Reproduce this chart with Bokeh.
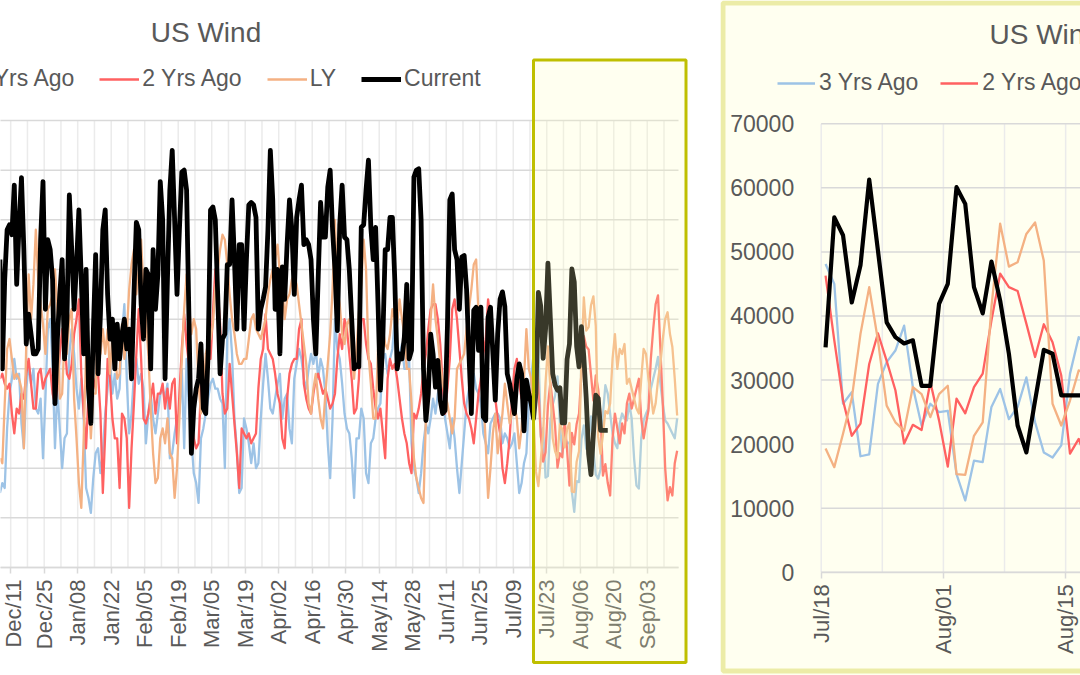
import math
import numpy as np
import pandas as pd
from bokeh.plotting import figure
from bokeh.layouts import row
from bokeh.models import (FixedTicker, DatetimeTickFormatter, NumeralTickFormatter,
                          Legend, LegendItem, BoxAnnotation, Label, Range1d)
from bokeh.embed import file_html
from bokeh.resources import INLINE

# ---------------- data (daily, values in thousand MW) ----------------
FIRST_DAY = "2022-12-06"

three_yrs_ago = [
    15, 17, 16, 28, 35, 38, 42, 38, 39, 29,
    24, 36, 41, 37, 40, 32, 31, 34, 22, 34,
    48, 50, 41, 24, 36, 28, 20, 26, 27, 43,
    48, 43, 36, 32, 38, 30, 16, 14, 11, 18,
    23, 24, 19, 23, 31, 36, 42, 35, 39, 34,
    36, 47, 53, 38, 27, 31, 39, 42, 37, 39,
    36, 25, 31, 35, 30, 27, 31, 35, 36, 34,
    37, 22, 23, 27, 30, 31, 40, 24, 42, 32,
    26, 19, 17, 13, 26, 28, 31, 34, 37, 38,
    36, 36, 34, 33, 20, 47, 50, 43, 30, 24,
    15, 16, 30, 28, 25, 21, 25, 20, 21, 30,
    37, 43, 38, 32, 31, 34, 37, 39, 30, 34,
    35, 28, 25, 38, 41, 44, 42, 38, 36, 40,
    43, 41, 44, 38, 42, 40, 35, 25, 18, 30,
    50, 44, 42, 37, 31, 28, 27, 22, 14, 26,
    26, 32, 30, 19, 17, 25, 26, 30, 32, 33,
    42, 43, 39, 42, 44, 50, 44, 43, 45, 40,
    40, 42, 25, 20, 18, 15, 19, 25, 29, 27,
    30, 34, 31, 35, 37, 36, 30, 27, 24, 30,
    26, 20, 15, 21, 27, 33, 36, 38, 39, 36,
    35, 33, 27, 25, 23, 29, 30, 31, 31, 30,
    25, 27, 26, 24, 25, 27, 21, 15, 17, 21,
    23, 33, 38, 43,
    48.1, 45.0, 26.3, 28.1, 18.1, 18.4, 29.4, 32.8, 34.6, 38.5,
    28.9, 22.9, 26.3, 25.0, 25.2, 15.3, 11.2, 17.4, 17.2, 25.8,
    28.6, 23.9, 25.8, 30.4, 23.4, 18.7, 17.9, 19.8, 31.0, 36.7,
    35, 31, 27, 25, 24, 29, 31, 30, 29.6, 33,
    30, 22, 16.5, 15.9, 26, 29.6, 31, 32, 36, 38,
    40, 42.4, 37, 33, 29.6, 29, 28, 27, 26, 30,
]

two_yrs_ago = [
    38, 39, 37, 36, 37, 31, 27, 32, 31, 35,
    34, 39, 42, 37, 32, 32, 39, 40, 36, 38,
    39, 40, 35, 33, 36, 43, 48, 46, 39, 38,
    41, 47, 50, 54, 39, 31, 24, 35, 42, 36,
    38, 39, 31, 15, 27, 42, 38, 30, 26, 26,
    16, 31, 30, 26, 12, 24, 33, 43, 52, 42,
    30, 29, 31, 34, 37, 31, 35, 35, 37, 32,
    36, 32, 37, 38, 25, 35, 44, 51, 45, 41,
    30, 26, 24, 25, 36, 40, 40, 43, 42, 51,
    60, 56, 49, 35, 31, 32, 41, 35, 29, 23,
    16, 28, 27, 26, 27, 25, 26, 27, 36, 42,
    44, 51, 44, 43, 42, 39, 35, 33, 26, 24,
    34, 39, 41, 42, 42, 48, 50, 37, 34, 32,
    31, 35, 38, 39, 37, 35, 36, 34, 32, 33,
    35, 42, 47, 44, 50, 48, 43, 38, 31, 32,
    38, 50, 50, 45, 42, 41, 36, 32, 30, 32,
    27, 22, 38, 42, 40, 41, 38, 34, 30, 27,
    25, 21, 19, 31, 30, 32, 35, 40, 43, 48,
    52, 53, 53, 50, 45, 37, 31, 36, 42, 52,
    54, 50, 44, 38, 33, 31, 30, 28, 25, 30,
    35, 38, 43, 46, 54, 50, 44, 34, 30, 27,
    20, 17, 21, 26, 34, 40, 42, 37, 34, 36,
    37.7, 36, 33, 35,
    46.3, 36.2, 26.8, 21.3, 23.2, 32.5, 37.3, 33.0, 28.4, 20.1,
    23.0, 22.2, 29.7, 23.7, 16.5, 27.1, 24.8, 28.9, 31.0, 39.3,
    46.6, 44.5, 43.9, 38.8, 33.6, 38.7, 35.9, 30.7, 18.5, 20.8,
    17, 14.5, 26, 31, 28, 25, 29, 27, 33, 35,
    32, 34, 36, 38, 30, 26, 29, 31.6, 42, 48,
    53, 54.8, 44, 33, 20, 13.5, 16.2, 14.5, 21, 23.5,
]

last_year = [
    22, 21, 33, 44, 46, 42, 38, 39, 38, 36,
    24, 45, 59, 50, 57, 68, 58, 53, 49, 43,
    52, 53, 55, 60, 52, 34, 35, 46, 43, 50,
    52, 34, 26, 17, 12, 26, 43, 36, 26, 35,
    35, 52, 43, 48, 43, 48, 39, 47, 44, 38,
    39, 49, 42, 47, 56, 61, 64, 55, 60, 66,
    56, 50, 43, 32, 23, 17, 18, 26, 28, 25,
    30, 23, 22, 14, 20, 30, 42, 52, 59, 53,
    47, 50, 48, 37, 31, 33, 43, 45, 46, 49,
    56, 60, 64, 67, 66, 61, 55, 50, 47, 43,
    41, 41, 42, 42, 46, 50, 51, 48, 47, 46,
    48, 50, 55, 58, 60, 62, 65, 59, 57, 50,
    54, 55, 58, 59, 57, 53, 49, 45, 41, 33,
    31, 36, 39, 34, 30, 28, 35, 41, 47, 56,
    70, 56, 53, 47, 45, 49, 50, 43, 38, 44,
    51, 57, 66, 60, 43, 37, 30, 30, 44, 44,
    48, 45, 44, 47, 52, 50, 49, 54, 50, 47,
    40, 40, 33, 22, 18, 16, 14, 13, 30, 41,
    50, 57, 50, 46, 41, 37, 35, 33, 30, 27,
    30, 40, 41, 42, 43, 48, 52, 56, 61, 62,
    51, 43, 35, 25, 14, 20, 27, 31, 23, 27,
    31, 37, 33, 29, 31, 33, 30, 24, 28, 38,
    48, 40, 38, 30,
    19.3, 16.4, 21.6, 27.1, 37.2, 44.5, 36.2, 26.0, 23.4, 22.1,
    28.9, 27.8, 24.2, 27.8, 29.1, 15.3, 15.2, 21.3, 23.4, 41.4,
    54.4, 47.7, 48.4, 52.8, 54.6, 48.6, 26.3, 22.9, 26.8, 31.5,
    31, 33, 42, 47, 40, 44, 43, 45, 37, 38,
    36, 34, 32, 31, 38, 44, 43, 38, 35, 31,
    33, 37.7, 41, 46, 50, 51.4, 47, 44.4, 38, 30.6,
]

current = [
    62, 40, 58, 68, 69, 67, 77, 57, 69, 78.5,
    64, 45, 51, 47, 43, 43, 44, 66, 77.7, 52,
    66, 64, 58, 33, 46, 55, 62, 42, 50, 75,
    64, 52, 61, 72, 58, 43, 60, 36, 29, 47,
    63, 39, 51, 68, 72, 55, 46, 50, 40, 49,
    42, 47, 50, 44, 48, 38, 55, 69.5, 68, 53,
    46, 60, 59, 40, 64, 52, 59, 77.7, 70, 38,
    58, 76, 84, 70, 55, 68, 79.6, 80, 76, 50,
    23, 32, 36, 38, 45, 32, 31, 43, 72, 72.6,
    70, 55, 39, 46, 47, 61, 61, 74, 62, 48,
    65, 65, 48, 62, 73, 73.5, 73, 70.5, 48, 52,
    54, 56.5, 68, 84, 74, 52, 60, 43, 60.5, 54,
    65, 74, 68, 55, 70.5, 74, 77, 65, 66, 65,
    62, 50, 43, 58.5, 73.5, 66.5, 66.5, 76.6, 80, 68,
    60, 47.7, 69, 77, 66.5, 66, 60, 50, 40, 40.7,
    40.4, 68.5, 69, 76, 82, 68.5, 62, 68.5, 53, 35.7,
    46, 64, 64, 70.5, 70.5, 58, 40, 43, 42, 46.4,
    57, 42, 43.7, 78.6, 80, 80.3, 70, 40, 29.6, 35,
    47, 43, 36.3, 41.7, 33.7, 31, 31.6, 48.4, 74, 75.2,
    64, 62, 52, 62.5, 62.8, 56, 43, 31, 51.8, 52.4,
    43.7, 52.4, 30.3, 29.6, 50.4, 52.4, 43, 33.7, 47, 54,
    55.5, 52.5, 39, 37, 34, 31, 38, 41, 39, 27.5,
    37.7, 35, 33, 30,
    35.1, 55.4, 52.6, 42.1, 47.9, 61.3, 50.2, 39.0, 36.7, 35.7,
    36.2, 29.1, 29.1, 41.9, 45.0, 60.1, 57.5, 44.5, 40.4, 48.5,
    42.4, 34.1, 22.9, 18.7, 26.8, 34.7, 34.1, 27.6, 27.6, 27.6,
    27.6,
]

series_names = ["3 Yrs Ago", "2 Yrs Ago", "LY", "Current"]
main_tick_labels = ["Dec/11", "Dec/25", "Jan/08", "Jan/22", "Feb/05", "Feb/19",
                    "Mar/05", "Mar/19", "Apr/02", "Apr/16", "Apr/30", "May/14",
                    "May/28", "Jun/11", "Jun/25", "Jul/09", "Jul/23", "Aug/06",
                    "Aug/20", "Sep/03"]
zoom_tick_labels = ["Jul/18", "Aug/01", "Aug/15"]
main_y_ticks = [0, 10000, 20000, 30000, 40000, 50000, 60000, 70000, 80000, 90000]
zoom_y_ticks = [0, 10000, 20000, 30000, 40000, 50000, 60000, 70000]
title_text = "US Wind"

# ---------------- styling ----------------
BLUE, RED, ORANGE, BLACK = "#9DC3E6", "#FF6161", "#F4B183", "#000000"
TEXT = "#595959"
OLIVE = "#BFBF00"
IVORY = "#FFFFF0"
FONT = "Liberation Sans"
HGRID, VGRID = "#D9D9D9", "#EBEBEB"
DAY_MS = 86400000.0


def ms(ts):
    return pd.Timestamp(ts).value / 1e6


dates = pd.date_range(FIRST_DAY, periods=len(three_yrs_ago), freq="D")
xs = dates + pd.Timedelta(hours=12)          # points sit in the middle of each day
s3 = np.array(three_yrs_ago) * 1000
s2 = np.array(two_yrs_ago) * 1000
sl = np.array(last_year) * 1000
sc = np.array(current) * 1000
xc = xs[:len(current)]

fmt = DatetimeTickFormatter(days="%b/%d", months="%b/%d", years="%b/%d",
                            hours="%b/%d", hourmin="%b/%d", minutes="%b/%d")


def style_xaxis(ax):
    ax.formatter = fmt
    ax.major_label_orientation = math.pi / 2
    ax.major_label_text_font_size = "22px"
    ax.major_label_text_font = FONT
    ax.major_label_text_color = TEXT
    ax.axis_line_color = HGRID
    ax.axis_line_width = 1.5
    ax.major_tick_line_color = HGRID
    ax.major_tick_line_width = 1.5
    ax.major_tick_out = 6
    ax.major_tick_in = 0
    ax.minor_tick_out = 0
    ax.minor_tick_in = 0
    ax.major_label_standoff = 6


# ================= main chart (frame = whole canvas) =================
W1, H = 720, 675
PXD = 2.393                                  # pixels per day
PX1 = 447 / 90.0                             # pixels per 1000 MW
DEC11 = ms("2022-12-11")


def lx(px):      # horizontal pixel of the picture -> time
    return DEC11 + (px - 10.2) / PXD * DAY_MS


def ly(py):      # vertical pixel of the picture -> MW
    return (567 - py) / PX1 * 1000


PLOT_END = lx(678)
main_ticks = pd.date_range("2022-12-11", periods=len(main_tick_labels), freq="14D")
main_grid = [ms(t) for t in pd.date_range("2022-12-04", "2023-09-15", freq="7D")]

p = figure(width=W1, height=H, x_axis_type="datetime", y_axis_location=None,
           output_backend="svg", toolbar_location=None,
           x_range=Range1d(lx(0), lx(W1)), y_range=Range1d(ly(H), ly(0)),
           min_border=0, background_fill_color="white", border_fill_color="white")
p.outline_line_color = None
p.grid.visible = False

p.xaxis.ticker = FixedTicker(ticks=[ms(t) for t in main_ticks])
p.xaxis.fixed_location = 0
p.xaxis.bounds = (lx(-10), PLOT_END)
style_xaxis(p.xaxis)

# gridlines limited to the plotting area
p.segment(x0=main_grid, y0=[0] * len(main_grid), x1=main_grid,
          y1=[main_y_ticks[-1]] * len(main_grid), line_color=VGRID, line_width=1.5)
p.segment(x0=[lx(-10)] * len(main_y_ticks), y0=main_y_ticks,
          x1=[PLOT_END] * len(main_y_ticks), y1=main_y_ticks,
          line_color=HGRID, line_width=1.5)

r3 = p.line(xs, s3, line_color=BLUE, line_width=2.3, line_join="round")
r2 = p.line(xs, s2, line_color=RED, line_width=2.3, line_join="round")
rl = p.line(xs, sl, line_color=ORANGE, line_width=2.3, line_join="round")
rc = p.line(xc, sc, line_color=BLACK, line_width=4.8, line_join="round")

p.add_layout(Legend(items=[LegendItem(label=n, renderers=[r]) for n, r in
                           zip(series_names, [r3, r2, rl, rc])],
                    location=(-68, H - 79 - 13), orientation="horizontal",
                    glyph_width=40, glyph_height=20, label_standoff=3, spacing=25,
                    padding=0, margin=0, border_line_alpha=0, background_fill_alpha=0,
                    label_text_font_size="23px", label_text_font=FONT,
                    label_text_color=TEXT))

p.add_layout(Label(x=lx(205.5), y=ly(31.5), text=title_text,
                   text_align="center", text_baseline="middle",
                   text_font_size="28px", text_font=FONT, text_color=TEXT))

# translucent highlight of the zoomed period
p.add_layout(BoxAnnotation(left=lx(533), right=lx(685.5), top=ly(59.5), bottom=ly(662),
                           fill_color=(255, 255, 187), fill_alpha=0.22,
                           line_color=OLIVE, line_width=3, line_alpha=1.0))

# ================= zoom chart (frame = whole canvas) =================
W2 = 360
ZPXD = 8.73
ZSTART = pd.Timestamp("2023-07-18")
Z0 = ms(ZSTART)


def rx(px):
    return Z0 + (px - 820.7) / ZPXD * DAY_MS


def ry(py):
    return (571.7 - py) / 6.406 * 1000


zoom_ticks = pd.date_range(ZSTART, periods=len(zoom_tick_labels), freq="14D")
zoom_grid = [ms(t) for t in pd.date_range(ZSTART, periods=6, freq="7D")]

q = figure(width=W2, height=H, x_axis_type="datetime",
           output_backend="svg", toolbar_location=None,
           x_range=Range1d(rx(720), rx(720 + W2)), y_range=Range1d(ry(H), ry(0)),
           min_border=0, background_fill_color=IVORY, border_fill_color=IVORY)
q.outline_line_color = None
q.grid.visible = False

q.xaxis.ticker = FixedTicker(ticks=[ms(t) for t in zoom_ticks])
q.xaxis.fixed_location = 0
q.xaxis.bounds = (Z0, rx(1200))
style_xaxis(q.xaxis)

q.yaxis.ticker = FixedTicker(ticks=zoom_y_ticks)
q.yaxis.fixed_location = Z0
q.yaxis.bounds = (0, zoom_y_ticks[-1])
q.yaxis.formatter = NumeralTickFormatter(format="0")
q.yaxis.major_label_text_font_size = "23px"
q.yaxis.major_label_text_font = FONT
q.yaxis.major_label_text_color = TEXT
q.yaxis.axis_line_color = None
q.yaxis.major_tick_line_color = None
q.yaxis.minor_tick_line_color = None
q.yaxis.major_label_standoff = 21

q.segment(x0=zoom_grid, y0=[0] * len(zoom_grid), x1=zoom_grid,
          y1=[zoom_y_ticks[-1]] * len(zoom_grid), line_color=VGRID, line_width=1.5)
q.segment(x0=[Z0] * len(zoom_y_ticks), y0=zoom_y_ticks,
          x1=[rx(1200)] * len(zoom_y_ticks), y1=zoom_y_ticks,
          line_color=HGRID, line_width=1.5)

zm = np.asarray(xs >= ZSTART)
zc = zm[:len(current)]
z3 = q.line(xs[zm], s3[zm], line_color=BLUE, line_width=2.3, line_join="round")
z2 = q.line(xs[zm], s2[zm], line_color=RED, line_width=2.3, line_join="round")
zl = q.line(xs[zm], sl[zm], line_color=ORANGE, line_width=2.3, line_join="round")
zcur = q.line(xc[zc], sc[zc], line_color=BLACK, line_width=4.2, line_join="round")

q.add_layout(Legend(items=[LegendItem(label=n, renderers=[r]) for n, r in
                           zip(series_names, [z3, z2, zl, zcur])],
                    location=(777 - 720, H - 83 - 13), orientation="horizontal",
                    glyph_width=38, glyph_height=20, label_standoff=4, spacing=22,
                    padding=0, margin=0, border_line_alpha=0, background_fill_alpha=0,
                    label_text_font_size="23px", label_text_font=FONT,
                    label_text_color=TEXT))

q.add_layout(Label(x=rx(989), y=ry(34), text=title_text,
                   text_align="left", text_baseline="middle",
                   text_font_size="28px", text_font=FONT, text_color=TEXT))

# thick olive frame of the zoom panel
q.add_layout(BoxAnnotation(left=rx(722.5), right=rx(1300), top=ry(2.5), bottom=ry(670.5),
                           fill_alpha=0, line_color=OLIVE, line_width=5))

layout = row(p, q)
open("out.html", "w").write(file_html(layout, INLINE))
